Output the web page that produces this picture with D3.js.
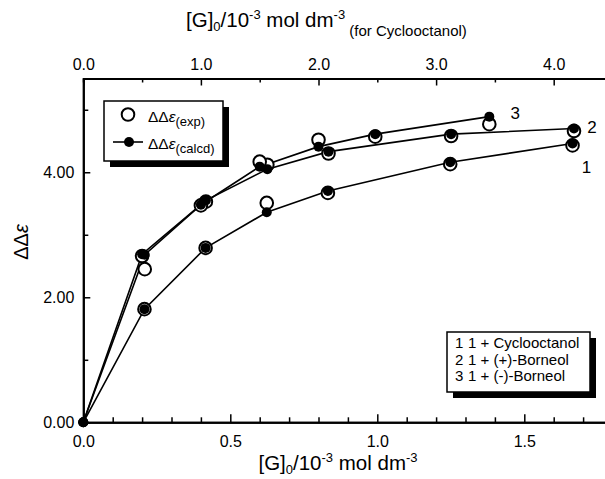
<!DOCTYPE html>
<html>
<head>
<meta charset="utf-8">
<script src="https://cdn.jsdelivr.net/npm/d3@7"></script>
<style>
  body { margin: 0; background: #fff; }
  svg { display: block; font-family: "Liberation Sans", Arial, sans-serif; }
</style>
</head>
<body>
<svg id="chart" width="605" height="479"></svg>
<script>
// (+)-Borneol, bottom axis concentration
const borneolPlusX = [0, 0.209, 0.417, 0.626, 0.834, 1.251, 1.669];
const borneolPlusCalc = [0, 2.68, 3.55, 4.05, 4.33, 4.61, 4.70];
const borneolPlusExp = [null, 2.45, 3.53, 4.12, 4.30, 4.58, 4.66];

// (-)-Borneol, bottom axis concentration
const borneolMinusX = [0, 0.20, 0.40, 0.60, 0.80, 0.993, 1.381];
const borneolMinusCalc = [0, 2.69, 3.48, 4.09, 4.41, 4.61, 4.89];
const borneolMinusExp = [null, 2.66, 3.47, 4.17, 4.52, 4.57, 4.77];

// Cyclooctanol, top axis concentration
const cyclooctanolX = [0, 0.52, 1.04, 1.56, 2.08, 3.12, 4.16];
const cyclooctanolCalc = [0, 1.81, 2.79, 3.36, 3.70, 4.16, 4.46];
const cyclooctanolExp = [null, 1.81, 2.79, 3.51, 3.67, 4.13, 4.43];

const bottomTicks = [0, 0.5, 1.0, 1.5];
const topTicks = [0, 1, 2, 3, 4];
const yTicks = [0, 2, 4];
const legendRows = ["1 + Cyclooctanol", "1 + (+)-Borneol", "1 + (-)-Borneol"];

const svg = d3.select("#chart");

const x = d3.scaleLinear().domain([0, 1.8]).range([83.3, 612.5]);
const xTop = d3.scaleLinear().domain([0, 4.5]).range([83.3, 612.5]);
const y = d3.scaleLinear().domain([0, 5.5]).range([422.3, 78.5]);

const series = [
  { id: "1", sx: xTop, xs: cyclooctanolX, calc: cyclooctanolCalc, exp: cyclooctanolExp, off: [14, 23] },
  { id: "2", sx: x, xs: borneolPlusX, calc: borneolPlusCalc, exp: borneolPlusExp, off: [18, -2] },
  { id: "3", sx: x, xs: borneolMinusX, calc: borneolMinusCalc, exp: borneolMinusExp, off: [26, -4] }
];

// Axes: major ticks with labels, minor ticks without; all ticks point inward
function styleAxis(g) {
  g.select(".domain").attr("stroke-width", 2);
  g.selectAll(".tick line").attr("stroke-width", 1.5);
  g.selectAll(".tick text").attr("font-size", 16).attr("fill", "#000");
}

const minorBottom = d3.range(1, 19).map(d => d / 10).filter(d => d * 2 % 1 !== 0);
svg.append("g").attr("transform", `translate(0,${y(0)})`)
  .call(d3.axisBottom(x).tickValues(minorBottom).tickSize(-5).tickFormat(""))
  .call(styleAxis);
svg.append("g").attr("transform", `translate(0,${y(0)})`)
  .call(d3.axisBottom(x).tickValues(bottomTicks).tickSizeInner(-8).tickSizeOuter(0)
    .tickPadding(13).tickFormat(d3.format(".1f")))
  .call(styleAxis);

svg.append("g").attr("transform", `translate(0,${y(5.5)})`)
  .call(d3.axisTop(xTop).tickValues([0.5, 1.5, 2.5, 3.5, 4.5]).tickSize(-4).tickFormat(""))
  .call(styleAxis);
svg.append("g").attr("transform", `translate(0,${y(5.5)})`)
  .call(d3.axisTop(xTop).tickValues(topTicks).tickSizeInner(-7).tickSizeOuter(0)
    .tickPadding(9).tickFormat(d3.format(".1f")))
  .call(styleAxis);

svg.append("g").attr("transform", `translate(${x(0)},0)`)
  .call(d3.axisLeft(y).tickValues([1, 3, 5]).tickSize(-5).tickFormat(""))
  .call(styleAxis);
svg.append("g").attr("transform", `translate(${x(0)},0)`)
  .call(d3.axisLeft(y).tickValues(yTicks).tickSizeInner(-7).tickSizeOuter(0)
    .tickPadding(9).tickFormat(d3.format(".2f")))
  .call(styleAxis);

// Axis titles
function concLabel(t) {
  t.append("tspan").text("[G]");
  t.append("tspan").attr("dy", 4).attr("font-size", 13).text("0");
  t.append("tspan").attr("dy", -4).text("/10");
  t.append("tspan").attr("dy", -8).attr("font-size", 13).text("-3");
  t.append("tspan").attr("dy", 8).text(" mol dm");
  t.append("tspan").attr("dy", -8).attr("font-size", 13).text("-3");
}

svg.append("text").attr("x", 338).attr("y", 470)
  .attr("text-anchor", "middle").attr("font-size", 20.5)
  .call(concLabel);

const topTitle = svg.append("text").attr("x", 186).attr("y", 27).attr("font-size", 20.5)
  .call(concLabel);
topTitle.append("tspan").attr("dy", 17).attr("font-size", 15).text(" (for Cyclooctanol)");

const yTitle = svg.append("text").attr("transform", "translate(28,242) rotate(-90)")
  .attr("text-anchor", "middle").attr("font-size", 20);
yTitle.append("tspan").text("ΔΔ");
yTitle.append("tspan").attr("font-style", "italic").text("ε");

// Calculated curves
const line = s => d3.line()
  .x((d, i) => s.sx(s.xs[i]))
  .y(d => y(d));

svg.append("g")
  .selectAll("path")
  .data(series)
  .join("path")
  .attr("fill", "none")
  .attr("stroke", "#000")
  .attr("stroke-width", 1.6)
  .attr("d", s => line(s)(s.calc));

// Experimental points (open circles)
svg.append("g")
  .selectAll("circle")
  .data(series.flatMap(s => s.exp.map((v, i) => ({ px: s.sx(s.xs[i]), v })).filter(d => d.v !== null)))
  .join("circle")
  .attr("cx", d => d.px)
  .attr("cy", d => y(d.v))
  .attr("r", 6.3)
  .attr("fill", "#fff")
  .attr("stroke", "#000")
  .attr("stroke-width", 2);

// Calculated points (filled dots)
svg.append("g")
  .selectAll("circle")
  .data(series.flatMap(s => s.calc.map((v, i) => ({ px: s.sx(s.xs[i]), v }))))
  .join("circle")
  .attr("cx", d => d.px)
  .attr("cy", d => y(d.v))
  .attr("r", 5)
  .attr("fill", "#000");

// Curve numbers
svg.append("g")
  .selectAll("text")
  .data(series)
  .join("text")
  .attr("x", s => s.sx(s.xs[s.xs.length - 1]) + s.off[0])
  .attr("y", s => y(s.calc[s.calc.length - 1]) + s.off[1])
  .attr("dy", "0.36em")
  .attr("text-anchor", "middle")
  .attr("font-size", 17)
  .text(s => s.id);

// Symbol legend (top left)
const leg1 = svg.append("g").attr("transform", "translate(104,101)");
leg1.append("rect").attr("x", 6).attr("y", 6).attr("width", 119).attr("height", 60).attr("fill", "#000");
leg1.append("rect").attr("width", 119).attr("height", 60).attr("fill", "#fff").attr("stroke", "#000").attr("stroke-width", 1.5);
leg1.append("circle").attr("cx", 24).attr("cy", 13.5).attr("r", 6.3)
  .attr("fill", "#fff").attr("stroke", "#000").attr("stroke-width", 2);
leg1.append("line").attr("x1", 9).attr("x2", 39).attr("y1", 41).attr("y2", 41)
  .attr("stroke", "#000").attr("stroke-width", 1.6);
leg1.append("circle").attr("cx", 25).attr("cy", 41).attr("r", 5).attr("fill", "#000");
[["(exp)", 21], ["(calcd)", 48]].forEach(([sub, yy]) => {
  const t = leg1.append("text").attr("x", 44).attr("y", yy).attr("font-size", 15.5);
  t.append("tspan").text("ΔΔ");
  t.append("tspan").attr("font-style", "italic").text("ε");
  t.append("tspan").attr("dy", 4).attr("font-size", 13).text(sub);
});

// Series legend (bottom right)
const leg2 = svg.append("g").attr("transform", "translate(447,332)");
leg2.append("rect").attr("x", 6).attr("y", 6).attr("width", 143).attr("height", 60).attr("fill", "#000");
leg2.append("rect").attr("width", 143).attr("height", 60).attr("fill", "#fff").attr("stroke", "#000").attr("stroke-width", 1.5);
leg2.selectAll("g.row")
  .data(legendRows)
  .join("g")
  .attr("class", "row")
  .attr("transform", (d, i) => `translate(0,${16 + i * 16.7})`)
  .call(g => g.append("text").attr("x", 8).attr("font-size", 15).text((d, i) => i + 1))
  .call(g => g.append("text").attr("x", 21).attr("font-size", 15).text(d => d));
</script>
</body>
</html>
